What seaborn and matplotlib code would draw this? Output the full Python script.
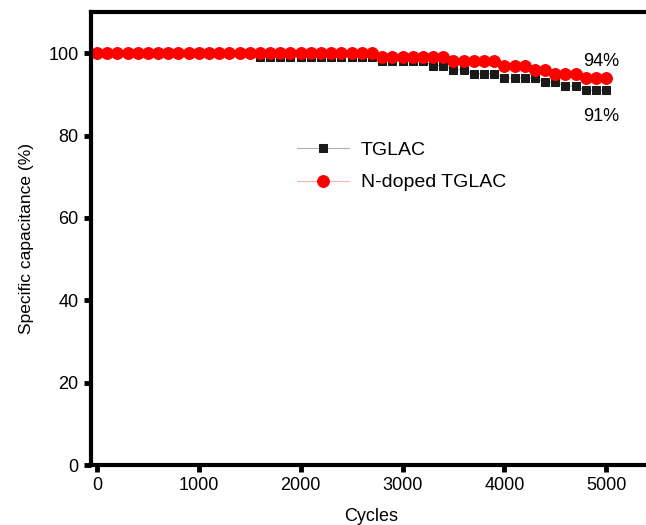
import matplotlib

matplotlib.use("Agg")

import pandas as pd
import seaborn as sns
from matplotlib import pyplot as plt

# cycle number for every measured point
cycles = [
    0, 100, 200, 300, 400, 500, 600, 700, 800, 900,
    1000, 1100, 1200, 1300, 1400, 1500, 1600, 1700, 1800, 1900,
    2000, 2100, 2200, 2300, 2400, 2500, 2600, 2700, 2800, 2900,
    3000, 3100, 3200, 3300, 3400, 3500, 3600, 3700, 3800, 3900,
    4000, 4100, 4200, 4300, 4400, 4500, 4600, 4700, 4800, 4900,
    5000,
]
tglac = [
    100, 100, 100, 100, 100, 100, 100, 100, 100, 100,
    100, 100, 100, 100, 100, 100, 99, 99, 99, 99,
    99, 99, 99, 99, 99, 99, 99, 99, 98, 98,
    98, 98, 98, 97, 97, 96, 96, 95, 95, 95,
    94, 94, 94, 94, 93, 93, 92, 92, 91, 91,
    91,
]
n_doped = [
    100, 100, 100, 100, 100, 100, 100, 100, 100, 100,
    100, 100, 100, 100, 100, 100, 100, 100, 100, 100,
    100, 100, 100, 100, 100, 100, 100, 100, 99, 99,
    99, 99, 99, 99, 99, 98, 98, 98, 98, 98,
    97, 97, 97, 96, 96, 95, 95, 95, 94, 94,
    94,
]
x_ticks = [0, 1000, 2000, 3000, 4000, 5000]
y_ticks = [0, 20, 40, 60, 80, 100]

df = pd.DataFrame({"cycles": cycles, "TGLAC": tglac, "N-doped TGLAC": n_doped})

sns.set_style("ticks")
plt.rcParams["font.family"] = ["Liberation Sans", "DejaVu Sans"]
plt.rcParams["text.color"] = "black"
plt.rcParams["axes.labelcolor"] = "black"
plt.rcParams["xtick.color"] = "black"
plt.rcParams["ytick.color"] = "black"

fig = plt.figure(figsize=(6.46, 5.25), dpi=100)
ax = fig.add_axes([91 / 646, 60 / 525, (652 - 91) / 646, 453 / 525])

sns.lineplot(
    data=df, x="cycles", y="TGLAC", ax=ax,
    color="#b0b0b0", linewidth=0.8,
    marker="s", markersize=5.5, markerfacecolor="#1a1a1a",
    markeredgecolor="#1a1a1a", label="TGLAC",
)
sns.lineplot(
    data=df, x="cycles", y="N-doped TGLAC", ax=ax,
    color="#ffb0b0", linewidth=0.8,
    marker="o", markersize=8.5, markerfacecolor="#ff0000",
    markeredgecolor="#ff0000", label="N-doped TGLAC",
)

ax.set_xlim(-59, 5450)
ax.set_ylim(0, 110)
ax.set_xticks(x_ticks)
ax.set_yticks(y_ticks)
ax.tick_params(axis="both", direction="out", length=5, width=3.5,
               labelsize=13, colors="black", pad=4,
               bottom=True, left=True, top=False, right=False)
for side in ["left", "bottom", "top"]:
    ax.spines[side].set_linewidth(3)
    ax.spines[side].set_color("black")
    ax.spines[side].set_visible(True)
ax.spines["right"].set_visible(False)

# the reference crops the x label at the bottom edge as well
ax.set_xlabel("Cycles", fontsize=13, labelpad=10)
ax.set_ylabel("Specific capacitance (%)", fontsize=12.5, labelpad=10)

ax.text(4950, 98.0, "94%", fontsize=13, ha="center", va="center")
ax.text(4950, 84.6, "91%", fontsize=13, ha="center", va="center")

ax.legend(loc="upper left", bbox_to_anchor=(0.367, 0.714), frameon=False,
          fontsize=14, handlelength=2.7, handletextpad=0.6,
          labelspacing=0.75, borderpad=0, borderaxespad=0)

fig.savefig("out.png", dpi=100, facecolor="white")
